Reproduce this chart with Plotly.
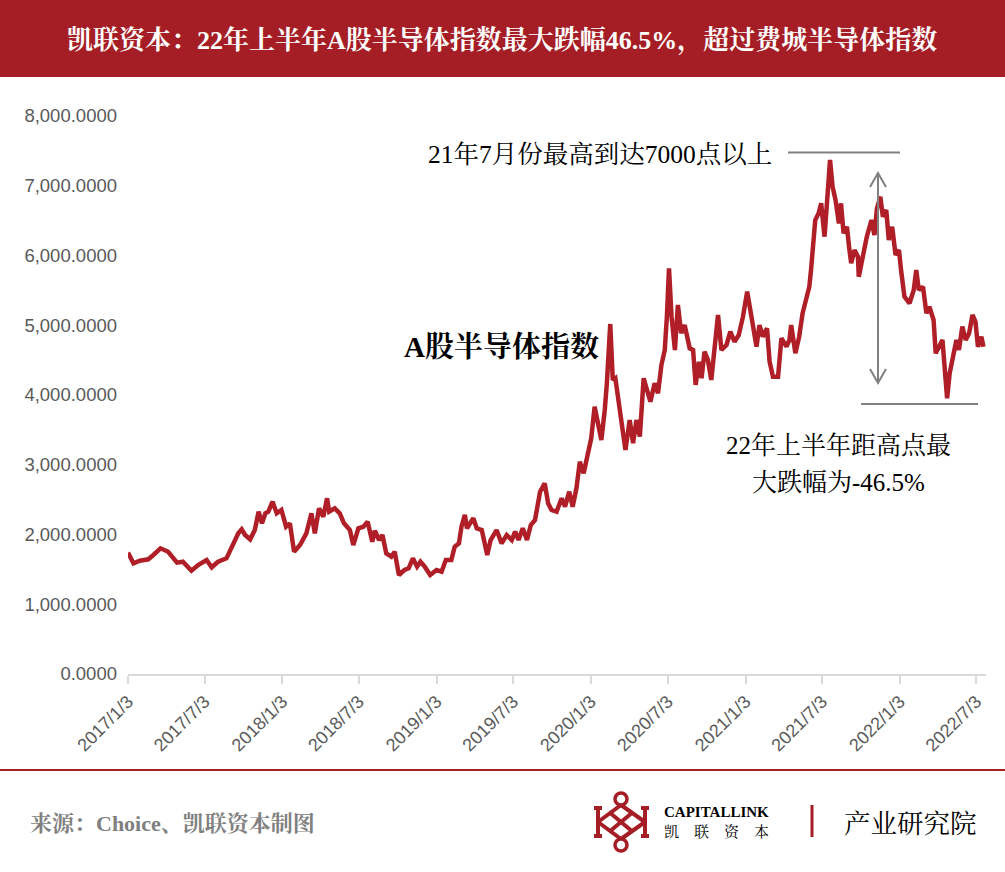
import plotly.graph_objects as go

# A股半导体指数 daily close (approx.)
dates = [
    "2017-01-03", "2017-01-16", "2017-01-31", "2017-02-20", "2017-03-04", "2017-03-21",
    "2017-04-08", "2017-04-20", "2017-04-29", "2017-05-13", "2017-05-21", "2017-06-02",
    "2017-06-18", "2017-07-08", "2017-07-20", "2017-08-04", "2017-08-24", "2017-09-05",
    "2017-09-21", "2017-09-29", "2017-10-07", "2017-10-19", "2017-10-30", "2017-11-08",
    "2017-11-16", "2017-11-24", "2017-12-01", "2017-12-11", "2017-12-21", "2018-01-01",
    "2018-01-12", "2018-01-21", "2018-01-31", "2018-02-14", "2018-03-01", "2018-03-13",
    "2018-03-21", "2018-03-31", "2018-04-10", "2018-04-19", "2018-04-24", "2018-05-07",
    "2018-05-19", "2018-05-29", "2018-06-12", "2018-06-20", "2018-07-02", "2018-07-14",
    "2018-07-24", "2018-08-04", "2018-08-10", "2018-08-20", "2018-08-28", "2018-09-06",
    "2018-09-18", "2018-09-26", "2018-10-06", "2018-10-19", "2018-10-29", "2018-11-08",
    "2018-11-18", "2018-11-26", "2018-12-06", "2018-12-19", "2019-01-03", "2019-01-15",
    "2019-01-25", "2019-02-07", "2019-02-15", "2019-02-25", "2019-03-03", "2019-03-11",
    "2019-03-16", "2019-03-31", "2019-04-08", "2019-04-20", "2019-04-27", "2019-05-03",
    "2019-05-11", "2019-05-25", "2019-06-06", "2019-06-18", "2019-06-30", "2019-07-08",
    "2019-07-16", "2019-07-26", "2019-08-05", "2019-08-14", "2019-08-24", "2019-09-05",
    "2019-09-16", "2019-09-24", "2019-10-02", "2019-10-14", "2019-10-26", "2019-11-03",
    "2019-11-13", "2019-11-21", "2019-11-30", "2019-12-08", "2019-12-17", "2019-12-24",
    "2020-01-04", "2020-01-12", "2020-01-20", "2020-01-28", "2020-02-05", "2020-02-10",
    "2020-02-18", "2020-02-24", "2020-03-01", "2020-03-07", "2020-03-15", "2020-03-25",
    "2020-04-04", "2020-04-12", "2020-04-20", "2020-04-28", "2020-05-07", "2020-05-14",
    "2020-05-23", "2020-06-02", "2020-06-10", "2020-06-18", "2020-06-26", "2020-07-01",
    "2020-07-06", "2020-07-12", "2020-07-20", "2020-07-27", "2020-08-04", "2020-08-12",
    "2020-08-24", "2020-09-01", "2020-09-07", "2020-09-15", "2020-09-21", "2020-09-28",
    "2020-10-06", "2020-10-14", "2020-10-22", "2020-10-30", "2020-11-07", "2020-11-19",
    "2020-11-28", "2020-12-08", "2020-12-18", "2020-12-28", "2021-01-07", "2021-01-14",
    "2021-01-21", "2021-01-29", "2021-02-05", "2021-02-13", "2021-02-23", "2021-03-01",
    "2021-03-09", "2021-03-21", "2021-03-29", "2021-04-10", "2021-04-17", "2021-04-21",
    "2021-05-01", "2021-05-10", "2021-05-18", "2021-05-28", "2021-06-03", "2021-06-07",
    "2021-06-11", "2021-06-17", "2021-06-25", "2021-07-01", "2021-07-09", "2021-07-14",
    "2021-07-19", "2021-07-22", "2021-07-28", "2021-08-04", "2021-08-12", "2021-08-17",
    "2021-08-23", "2021-08-31", "2021-09-05", "2021-09-10", "2021-09-18", "2021-09-26",
    "2021-09-28", "2021-10-08", "2021-10-17", "2021-10-28", "2021-11-04", "2021-11-10",
    "2021-11-18", "2021-11-24", "2021-12-02", "2021-12-08", "2021-12-16", "2021-12-24",
    "2022-01-01", "2022-01-06", "2022-01-14", "2022-01-26", "2022-02-05", "2022-02-11",
    "2022-02-17", "2022-02-27", "2022-03-07", "2022-03-14", "2022-03-24", "2022-03-29",
    "2022-04-06", "2022-04-14", "2022-04-19", "2022-04-25", "2022-05-01", "2022-05-09",
    "2022-05-17", "2022-05-23", "2022-05-31", "2022-06-08", "2022-06-16", "2022-06-24",
    "2022-07-01", "2022-07-07", "2022-07-15", "2022-07-20",
]
index_values = [
    1740, 1587, 1624, 1644, 1706, 1802,
    1753, 1658, 1596, 1610, 1548, 1481,
    1563, 1634, 1530, 1610, 1658, 1825,
    2017, 2075, 1993, 1931, 2064, 2327,
    2160, 2304, 2327, 2470, 2304, 2351,
    2112, 2160, 1753, 1849, 2017, 2304,
    2017, 2375, 2255, 2519, 2327, 2375,
    2304, 2160, 2064, 1849, 2089, 2112,
    2184, 1897, 2054, 1921, 1993, 1730,
    1682, 1753, 1419, 1491, 1515, 1658,
    1539, 1610, 1539, 1419, 1491, 1467,
    1634, 1634, 1825, 1873, 2112, 2280,
    2089, 2232, 2089, 2064, 1825, 1706,
    1921, 2064, 1873, 1993, 1921, 2040,
    1921, 2089, 1921, 2136, 2208, 2614,
    2734, 2447, 2351, 2327, 2519, 2399,
    2614, 2399, 2662, 3044, 2877, 3092,
    3379, 3832, 3546, 3355, 3785, 4168,
    5018, 4215, 4240, 3976, 3642, 3211,
    3642, 3308, 3642, 3403, 4240, 4072,
    3904, 4168, 4024, 4430, 4645, 5123,
    5816, 5123, 4645, 5290, 4885, 5003,
    4669, 4645, 4144, 4477, 4240, 4621,
    4502, 4215, 4645, 5147, 4645, 4717,
    4908, 4764, 4860, 5123, 5481, 5219,
    4980, 4693, 5003, 4836, 4956, 4477,
    4263, 4263, 4813, 4693, 4789, 5003,
    4598, 4836, 5171, 5409, 5553, 5792,
    6126, 6509, 6605, 6748, 6270, 6796,
    7130, 7369, 6987, 6796, 6461, 6748,
    6318, 6413, 6126, 5888, 6079, 5983,
    5696, 6007, 6270, 6509, 6294, 6676,
    6843, 6557, 6652, 6222, 6413, 6007,
    6079, 5792, 5409, 5314, 5505, 5792,
    5505, 5553, 5171, 5266, 5075, 4598,
    4693, 4789, 4406, 3953, 4311, 4549,
    4789, 4645, 4980, 4789, 4884, 5147,
    5051, 4693, 4836, 4693,
]

tick_dates = ["2017-01-03", "2017-07-03", "2018-01-03", "2018-07-03", "2019-01-03",
              "2019-07-03", "2020-01-03", "2020-07-03", "2021-01-03", "2021-07-03",
              "2022-01-03", "2022-07-03"]
tick_text = ["2017/1/3", "2017/7/3", "2018/1/3", "2018/7/3", "2019/1/3", "2019/7/3",
             "2020/1/3", "2020/7/3", "2021/1/3", "2021/7/3", "2022/1/3", "2022/7/3"]

RED = "#A51D25"
GRAY = "#808080"
SERIF = "Liberation Serif, Noto Serif CJK SC, Noto Sans CJK SC"
SANS = "Liberation Sans, Arial, sans-serif"

W, H = 1005, 872
L, R, T, B = 128, 986, 116, 674


def px(x):
    # page pixel -> paper x
    return (x - L) / (R - L)


def py(y):
    # page pixel -> paper y
    return (B - y) / (B - T)


fig = go.Figure()
fig.add_trace(go.Scatter(
    x=dates, y=index_values, mode="lines",
    line=dict(color="#B01F27", width=4.5),
    hoverinfo="x+y", showlegend=False,
))

shapes = [
    # header band
    dict(type="rect", xref="paper", yref="paper", x0=px(0), x1=px(W), y0=py(77), y1=py(0),
         fillcolor=RED, line_width=0, layer="below"),
    # footer rule
    dict(type="line", xref="paper", yref="paper", x0=px(0), x1=px(W), y0=py(770), y1=py(770),
         line=dict(color=RED, width=2)),
    # annotation guides
    dict(type="line", xref="paper", yref="paper", x0=px(788), x1=px(900), y0=py(152.5), y1=py(152.5),
         line=dict(color=GRAY, width=2)),
    dict(type="line", xref="paper", yref="paper", x0=px(861), x1=px(978), y0=py(404), y1=py(404),
         line=dict(color=GRAY, width=2)),
    dict(type="line", xref="paper", yref="paper", x0=px(878), x1=px(878), y0=py(173), y1=py(383),
         line=dict(color=GRAY, width=2)),
    dict(type="path", xref="paper", yref="paper",
         path=f"M {px(870)} {py(187)} L {px(878)} {py(173)} L {px(886)} {py(187)}",
         line=dict(color=GRAY, width=2)),
    dict(type="path", xref="paper", yref="paper",
         path=f"M {px(870)} {py(369)} L {px(878)} {py(383)} L {px(886)} {py(369)}",
         line=dict(color=GRAY, width=2)),
    # logo divider
    dict(type="line", xref="paper", yref="paper", x0=px(812), x1=px(812), y0=py(805), y1=py(837),
         line=dict(color=RED, width=3)),
]

# rough logo mark
logo_lines = [
    ((598, 808), (598, 836)), ((645, 808), (645, 836)),
    ((594, 808), (602, 808)), ((594, 836), (602, 836)),
    ((641, 808), (649, 808)), ((641, 836), (649, 836)),
    ((598, 822), (621, 805)), ((598, 822), (621, 839)),
    ((645, 822), (621, 805)), ((645, 822), (621, 839)),
    ((609, 812), (633, 832)), ((633, 812), (609, 832)),
]
for (x0, y0), (x1, y1) in logo_lines:
    shapes.append(dict(type="line", xref="paper", yref="paper",
                       x0=px(x0), y0=py(y0), x1=px(x1), y1=py(y1),
                       line=dict(color=RED, width=4)))
for cy in (799, 845):
    shapes.append(dict(type="circle", xref="paper", yref="paper",
                       x0=px(615), x1=px(627), y0=py(cy + 6), y1=py(cy - 6),
                       line=dict(color=RED, width=3.5)))


def note(text, x, y, size, color="black", family=SERIF, xanchor="center", bold=False):
    if bold:
        text = "<b>" + text + "</b>"
    return dict(text=text, xref="paper", yref="paper", x=px(x), y=py(y),
                xanchor=xanchor, yanchor="middle", showarrow=False,
                font=dict(family=family, size=size, color=color))


annotations = [
    note("凯联资本：22年上半年A股半导体指数最大跌幅46.5%，超过费城半导体指数", 502, 40, 26,
         color="white", bold=True),
    note("21年7月份最高到达7000点以上", 600, 154, 25.5),
    note("A股半导体指数", 501, 347, 29, bold=True),
    note("22年上半年距高点最", 838, 446, 25),
    note("大跌幅为-46.5%", 838, 482, 25),
    note("来源：Choice、凯联资本制图", 28, 823, 22, color="#808080", xanchor="left", bold=True),
    note("CAPITALLINK", 662, 812, 15, xanchor="left", bold=True),
    note("凯　联　资　本", 662, 832, 15, xanchor="left"),
    note("产业研究院", 842, 824, 26.5, xanchor="left"),
]

fig.update_layout(
    width=W, height=H,
    margin=dict(l=L, r=W - R, t=T, b=H - B),
    paper_bgcolor="white", plot_bgcolor="white",
    shapes=shapes, annotations=annotations,
    xaxis=dict(
        type="date", range=["2017-01-03", "2022-07-26"],
        tickmode="array", tickvals=tick_dates, ticktext=tick_text,
        tickangle=-45, tickfont=dict(family=SANS, size=18, color="#595959"),
        ticks="outside", ticklen=8, tickcolor="#d9d9d9", tickwidth=2,
        showline=True, linecolor="#d9d9d9", linewidth=2,
        showgrid=False, zeroline=False,
    ),
    yaxis=dict(
        range=[0, 8000], tickmode="linear", tick0=0, dtick=1000,
        tickformat=",.4f", tickfont=dict(family=SANS, size=18.5, color="#595959"),
        showgrid=False, zeroline=False, showline=False, ticklabelstandoff=10,
    ),
)

fig.write_html("out.html", config={"displayModeBar": False},
               post_script="document.body.style.margin='0';")
